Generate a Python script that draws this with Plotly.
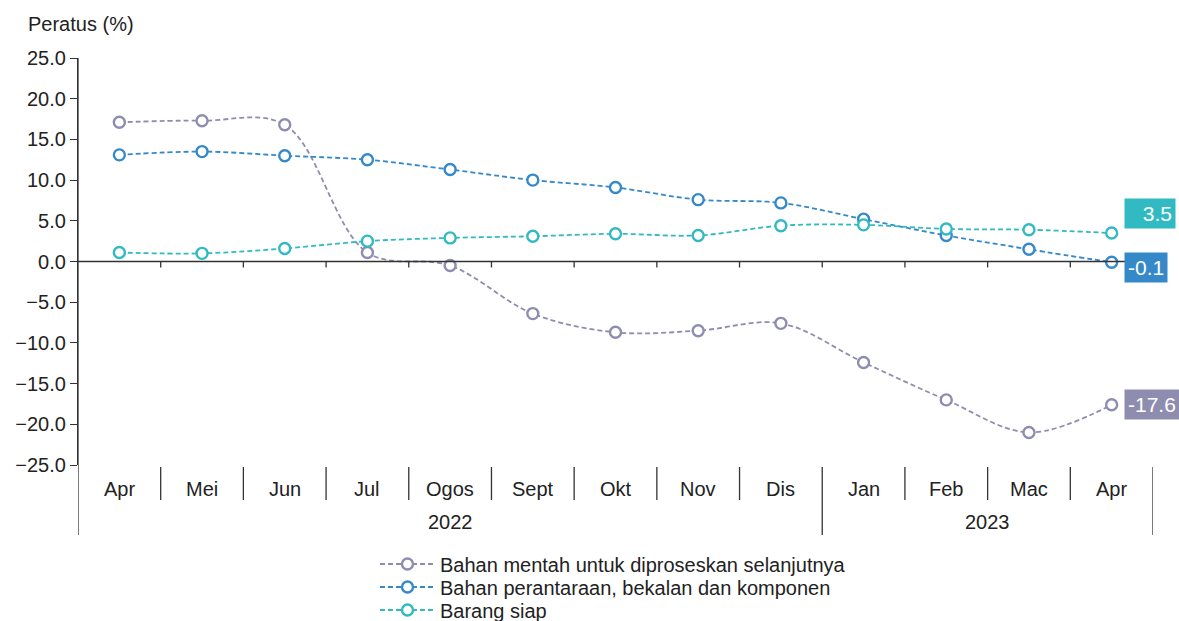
import plotly.graph_objects as go

# Monthly series, Apr 2022 - Apr 2023 (percent, year-on-year)
months = ["Apr", "Mei", "Jun", "Jul", "Ogos", "Sept", "Okt", "Nov", "Dis",
          "Jan", "Feb", "Mac", "Apr"]
years = ["2022", "2023"]
year_counts = [9, 4]

bahan_mentah = [17.1, 17.3, 16.8, 1.1, -0.5, -6.4, -8.7, -8.5, -7.6,
                -12.4, -17.0, -21.0, -17.6]
bahan_perantaraan = [13.1, 13.5, 13.0, 12.5, 11.3, 10.0, 9.1, 7.6, 7.2,
                     5.2, 3.2, 1.5, -0.1]
barang_siap = [1.1, 1.0, 1.6, 2.5, 2.9, 3.1, 3.4, 3.2, 4.4,
               4.5, 4.0, 3.9, 3.5]

series_names = ["Bahan mentah untuk diproseskan selanjutnya",
                "Bahan perantaraan, bekalan dan komponen",
                "Barang siap"]
colors = ["#8E8DAF", "#3589C9", "#31BAC2"]

FONT = "Arial, Liberation Sans, sans-serif"
FS = 20
TEXT = "#222222"
AXIS = "#333333"

W, H = 1179, 621
ML, MR, MT, MB = 78, 26, 58, 156
PLOT_H = float(H - MT - MB)
PLOT_W = float(W - ML - MR)


def py(px_below):
    """Paper y for a distance in pixels below the plot area."""
    return -px_below / PLOT_H


x = list(range(len(months)))
fig = go.Figure()

# One legend per series so the rows can sit close together
legend_ids = ["legend", "legend2", "legend3"]
legend_rows = [99, 122, 145]  # px below the plot area

for name, vals, col, lid in zip(series_names,
                                [bahan_mentah, bahan_perantaraan, barang_siap],
                                colors, legend_ids):
    fig.add_trace(go.Scatter(
        x=x, y=vals, name=name, mode="lines+markers", legend=lid,
        line=dict(color=col, width=1.8, dash="5px,3px", shape="spline", smoothing=1.0),
        marker=dict(symbol="circle", size=11, color="white",
                    line=dict(color=col, width=2.4)),
        cliponaxis=False,
    ))

# End-of-series value boxes
last_idx = len(months) - 1
label_shift = [0, -5, 20]
for vals, col, ys in zip([bahan_mentah, bahan_perantaraan, barang_siap], colors, label_shift):
    fig.add_annotation(
        x=last_idx, y=vals[-1], xref="x", yref="y",
        text=f"{vals[-1]:.1f}", showarrow=False,
        xanchor="left", yanchor="middle", xshift=12, yshift=ys,
        font=dict(family=FONT, size=21, color="white"),
        bgcolor=col, borderpad=3, width=44 if vals[-1] >= 0 else None,
        align="right",
    )

shapes = []
# Zero line with downward ticks at category boundaries
shapes.append(dict(type="line", xref="x", yref="y", x0=-0.5, x1=last_idx + 0.5,
                   y0=0, y1=0, line=dict(color=AXIS, width=1.3)))
for i in range(len(months)):
    b = i + 0.5
    shapes.append(dict(type="line", xref="x", yref="y", x0=b, x1=b,
                       ysizemode="pixel", yanchor=0, y0=0, y1=-6,
                       line=dict(color=AXIS, width=1.3)))

# Category separators below the plot
year_bounds = {-0.5, last_idx + 0.5}
acc = -0.5
for c in year_counts:
    acc += c
    year_bounds.add(acc)
for i in range(len(months) + 1):
    b = i - 0.5
    if b in year_bounds:
        y0, y1 = (py(2) if b != -0.5 else 1.0), py(70)
    else:
        y0, y1 = py(2), py(35)
    shapes.append(dict(type="line", xref="x", yref="paper", x0=b, x1=b,
                       y0=y0, y1=y1, line=dict(color=AXIS, width=1.3)))

for i, m in enumerate(months):
    fig.add_annotation(x=i, y=py(24), xref="x", yref="paper", text=m,
                       showarrow=False, yanchor="middle",
                       font=dict(family=FONT, size=FS, color=TEXT))
start = 0
for yr, c in zip(years, year_counts):
    mid = start + (c - 1) / 2
    fig.add_annotation(x=mid, y=py(57), xref="x", yref="paper", text=yr,
                       showarrow=False, yanchor="middle",
                       font=dict(family=FONT, size=FS, color=TEXT))
    start += c

# Axis unit caption, top-left
fig.add_annotation(x=(26 - ML) / PLOT_W, y=1 + (MT - 24) / PLOT_H,
                   xref="paper", yref="paper",
                   text="Peratus (%)", showarrow=False,
                   xanchor="left", yanchor="middle",
                   font=dict(family=FONT, size=FS, color=TEXT))

legend_style = dict(orientation="v", x=(375 - ML) / PLOT_W, xanchor="left",
                    yanchor="middle", font=dict(family=FONT, size=20, color=TEXT),
                    itemwidth=55, bgcolor="rgba(0,0,0,0)")

fig.update_layout(
    width=W, height=H,
    margin=dict(l=ML, r=MR, t=MT, b=MB, autoexpand=False),
    paper_bgcolor="white", plot_bgcolor="white",
    shapes=shapes,
    showlegend=True,
    font=dict(family=FONT, color=TEXT),
)
for lid, row in zip(legend_ids, legend_rows):
    fig.update_layout({lid: dict(legend_style, y=py(row))})

fig.update_xaxes(range=[-0.5, last_idx + 0.5], visible=False)
fig.update_yaxes(range=[-25, 25], dtick=5, tick0=0, tickformat=".1f",
                 showgrid=False, zeroline=False, showline=True,
                 linecolor=AXIS, linewidth=1.3, ticks="outside", ticklen=7,
                 tickcolor=AXIS, tickwidth=1.3,
                 tickfont=dict(family=FONT, size=FS, color=TEXT))

fig.write_html("out.html")
